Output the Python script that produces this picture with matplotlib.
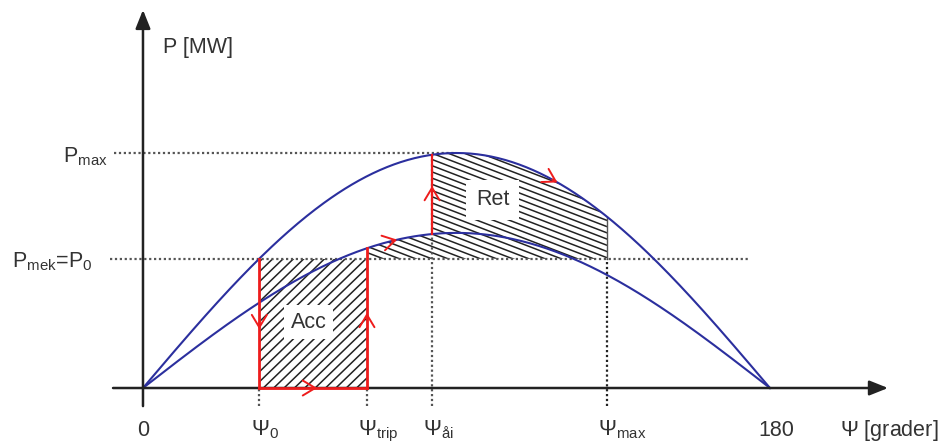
import numpy as np
import matplotlib
matplotlib.use('Agg')
import matplotlib.pyplot as plt
from matplotlib.patches import Polygon

plt.rcParams['font.family'] = ['Liberation Sans', 'DejaVu Sans']
plt.rcParams['mathtext.fontset'] = 'custom'
plt.rcParams['mathtext.rm'] = 'Liberation Sans'
plt.rcParams['mathtext.it'] = 'Liberation Sans:italic'
plt.rcParams['mathtext.default'] = 'regular'

# power-angle curves (per unit of Pmax) and the operating angles in degrees
P_max = 1.0          # both lines in service
P_reduced = 0.66     # one line tripped
P_0 = 0.55           # mechanical power
psi_0 = 33.4
psi_trip = 64.3
psi_ai = 83.0
psi_max = 133.2
psi_end = 180.0

# where the red direction arrows sit
arrow_down_P = 0.25
arrow_axis_psi = 50.0
arrow_up_P = 0.32
arrow_low_psi = 73.0
arrow_reclose_P = 0.86
arrow_high_psi = 119.0

BLUE = '#2b2f9e'
RED = '#ee1c1c'
GREY = '#333333'
DOT = '#555555'
FS = 15.5


def p_high(psi):
    return P_max * np.sin(np.radians(psi))


def p_low(psi):
    return P_reduced * np.sin(np.radians(psi))


def hatch(ax, xs, ys, angle, gap, lw=1.1):
    # parallel lines in screen space, clipped to the polygon
    poly = Polygon(np.column_stack([xs, ys]), closed=True, fc='none', ec='none')
    ax.add_patch(poly)
    pts = ax.transData.transform(np.column_stack([xs, ys]))
    th = np.radians(angle)
    d = np.array([np.cos(th), np.sin(th)])
    n = np.array([-d[1], d[0]])
    proj = pts @ n
    t0 = pts.mean(axis=0) @ d
    L = np.ptp(pts, axis=0).sum()
    inv = ax.transData.inverted()
    for off in np.arange(proj.min() - gap, proj.max() + gap, gap):
        seg = np.array([n * off + d * (t0 - L), n * off + d * (t0 + L)])
        seg = inv.transform(seg)
        ln, = ax.plot(seg[:, 0], seg[:, 1], color='#222222', lw=lw, zorder=2)
        ln.set_clip_path(poly)


def arrow(ax, p1, p2):
    ax.annotate('', xy=p2, xytext=p1,
                arrowprops=dict(arrowstyle='->,head_length=0.5,head_width=0.3',
                                color=RED, lw=1.4, mutation_scale=18,
                                shrinkA=0, shrinkB=0), zorder=6)


fig = plt.figure(figsize=(9.49, 4.43), dpi=100)
ax = fig.add_axes([0, 0, 1, 1])
ax.set_xlim(-41.05, 231.4)
ax.set_ylim(-0.234, 1.651)
ax.axis('off')

# axes with arrow heads
ax.annotate('', xy=(0, 1.609), xytext=(0, -0.077),
            arrowprops=dict(arrowstyle='-|>,head_length=0.75,head_width=0.3',
                            color='#222222', lw=1.8, mutation_scale=15,
                            shrinkA=0, shrinkB=0), zorder=5)
ax.annotate('', xy=(213.9, 0), xytext=(-8.6, 0),
            arrowprops=dict(arrowstyle='-|>,head_length=0.75,head_width=0.3',
                            color='#222222', lw=1.8, mutation_scale=15,
                            shrinkA=0, shrinkB=0), zorder=5)

# accelerating and retarding areas
hatch(ax, [psi_0, psi_trip, psi_trip, psi_0], [0, 0, P_0, P_0], 44, 7.2)
seg_low = np.linspace(psi_trip, psi_ai, 40)
seg_high = np.linspace(psi_ai, psi_max, 80)
xs = np.concatenate([[psi_trip], seg_low, seg_high, [psi_max]])
ys = np.concatenate([[P_0], p_low(seg_low), p_high(seg_high), [P_0]])
hatch(ax, xs, ys, -21, 5.8)
ax.plot([psi_max, psi_max], [P_0, p_high(psi_max)], color='#555555', lw=1.0, zorder=2)

# dotted guide lines
dots = dict(color=DOT, lw=1.6, ls=(0, (1, 1.2)), zorder=3)
ax.plot([-8.3, 90], [P_max, P_max], **dots)
ax.plot([-9.5, 174], [P_0, P_0], **dots)
ax.plot([psi_0, psi_0], [-0.077, 0], **dots)
ax.plot([psi_trip, psi_trip], [-0.077, 0], **dots)
ax.plot([psi_ai, psi_ai], [-0.077, p_high(psi_ai)], **dots)
ax.plot([psi_max, psi_max], [-0.077, P_0], color='#222222', lw=1.6,
        ls=(0, (1, 1.2)), zorder=3)

# power-angle curves
psi = np.linspace(0, psi_end, 361)
ax.plot(psi, p_high(psi), color=BLUE, lw=1.5, zorder=4)
ax.plot(psi, p_low(psi), color=BLUE, lw=1.5, zorder=4)

# trajectory of the rotor angle
red = dict(color=RED, lw=2.0, zorder=5)
ax.plot([psi_0, psi_0], [P_0, 0], **red)
ax.plot([psi_0, psi_trip], [0, 0], **red)
ax.plot([psi_trip, psi_trip], [0, p_low(psi_trip)], **red)
ax.plot([psi_ai, psi_ai], [p_low(psi_ai), p_high(psi_ai)], color=RED, lw=1.6, zorder=5)

arrow(ax, (psi_0, arrow_down_P + 0.03), (psi_0, arrow_down_P))
arrow(ax, (arrow_axis_psi - 2, 0), (arrow_axis_psi, 0))
arrow(ax, (psi_trip, arrow_up_P - 0.03), (psi_trip, arrow_up_P))
arrow(ax, (arrow_low_psi - 1.5, p_low(arrow_low_psi - 1.5)),
      (arrow_low_psi, p_low(arrow_low_psi)))
arrow(ax, (psi_ai, arrow_reclose_P - 0.03), (psi_ai, arrow_reclose_P))
arrow(ax, (arrow_high_psi - 1.5, p_high(arrow_high_psi - 1.5)),
      (arrow_high_psi, p_high(arrow_high_psi)))

# area labels
ax.text(47.5, 0.28, 'Acc', fontsize=FS, color=GREY, ha='center', va='center',
        bbox=dict(boxstyle='square,pad=0.3', fc='white', ec='none'), zorder=7)
ax.text(100.4, 0.80, 'Ret', fontsize=FS, color=GREY, ha='center', va='center',
        bbox=dict(boxstyle='square,pad=0.45', fc='white', ec='none'), zorder=7)

# axis labels
ax.text(5.7, 1.427, 'P [MW]', fontsize=FS, color=GREY, ha='left', va='baseline')
ax.text(-10, 0.962, r'$P_{max}$', fontsize=FS, color=GREY, ha='right', va='baseline')
ax.text(-14.4, 0.515, r'$P_{mek}$=$P_{0}$', fontsize=FS, color=GREY,
        ha='right', va='baseline')
ax.text(0, -0.205, '0', fontsize=FS, color=GREY, ha='center', va='baseline')
ax.text(181.7, -0.205, '180', fontsize=FS, color=GREY, ha='center', va='baseline')
ax.text(200.2, -0.205, r'$\Psi$ [grader]', fontsize=FS, color=GREY,
        ha='left', va='baseline')
for val, sub in [(psi_0, '0'), (psi_trip, 'trip'), (psi_ai, 'åi'), (psi_max, 'max')]:
    ax.annotate(r'$\Psi_{%s}$' % sub, xy=(val, -0.2), xytext=(-6.3, 0),
                textcoords='offset points', fontsize=FS, color=GREY,
                ha='left', va='baseline')

fig.savefig('out.png', dpi=100)
